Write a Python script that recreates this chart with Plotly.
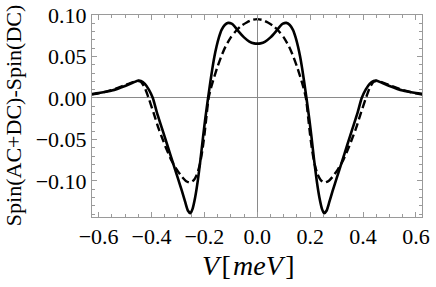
import plotly.graph_objects as go

# Solid curve (AC+DC) samples
x_solid = [-0.625, -0.60, -0.55, -0.50, -0.47, -0.45, -0.44, -0.425, -0.41, -0.395, -0.38, -0.36,
           -0.34, -0.32, -0.30, -0.285, -0.272, -0.262, -0.253, -0.245, -0.235, -0.225, -0.215,
           -0.205, -0.197, -0.186, -0.178, -0.17, -0.162, -0.154, -0.145, -0.135, -0.123, -0.11,
           -0.097, -0.085, -0.07, -0.05, -0.03, -0.012, 0.0,
           0.012, 0.03, 0.05, 0.07, 0.085, 0.097, 0.11, 0.123, 0.135, 0.145, 0.154, 0.162, 0.17,
           0.178, 0.186, 0.197, 0.205, 0.215, 0.225, 0.235, 0.245, 0.253, 0.262, 0.272, 0.285,
           0.30, 0.32, 0.34, 0.36, 0.38, 0.395, 0.41, 0.425, 0.44, 0.45, 0.47, 0.50, 0.55, 0.60, 0.625]
y_solid = [0.0048, 0.006, 0.009, 0.0145, 0.0185, 0.021, 0.0205, 0.017, 0.010, 0.0, -0.017, -0.037,
           -0.057, -0.077, -0.097, -0.112, -0.126, -0.136, -0.139, -0.134, -0.120, -0.100, -0.075,
           -0.047, -0.026, 0.0, 0.018, 0.035, 0.050, 0.062, 0.073, 0.082, 0.088, 0.0905,
           0.0895, 0.086, 0.080, 0.073, 0.068, 0.0658, 0.0655,
           0.0658, 0.068, 0.073, 0.080, 0.086, 0.0895, 0.0905, 0.088, 0.082, 0.073, 0.062, 0.050, 0.035,
           0.018, 0.0, -0.026, -0.047, -0.075, -0.100, -0.120, -0.134, -0.139, -0.136, -0.126, -0.112,
           -0.097, -0.077, -0.057, -0.037, -0.017, 0.0, 0.010, 0.017, 0.0205, 0.021, 0.0185, 0.0145, 0.009, 0.006, 0.0048]

# Dashed curve (DC reference) samples
x_dash = [-0.625, -0.60, -0.55, -0.50, -0.47, -0.45, -0.44, -0.425, -0.411, -0.39, -0.373, -0.36,
          -0.343, -0.325, -0.305, -0.285, -0.27, -0.255, -0.24, -0.228, -0.217, -0.208, -0.20,
          -0.193, -0.184, -0.175, -0.165, -0.15, -0.135, -0.12, -0.10, -0.08, -0.06, -0.04, -0.02, 0.0,
          0.02, 0.04, 0.06, 0.08, 0.10, 0.12, 0.135, 0.15, 0.165, 0.175, 0.184, 0.193, 0.20, 0.208,
          0.217, 0.228, 0.24, 0.255, 0.27, 0.285, 0.305, 0.325, 0.343, 0.36, 0.373, 0.39, 0.411,
          0.425, 0.44, 0.45, 0.47, 0.50, 0.55, 0.60, 0.625]
y_dash = [0.004, 0.0055, 0.0095, 0.0155, 0.019, 0.0205, 0.0195, 0.012, 0.0, -0.020, -0.037, -0.048,
          -0.062, -0.075, -0.086, -0.095, -0.100, -0.102, -0.099, -0.092, -0.080, -0.064, -0.045,
          -0.025, 0.0, 0.012, 0.023, 0.038, 0.051, 0.062, 0.073, 0.081, 0.087, 0.091, 0.094, 0.095,
          0.094, 0.091, 0.087, 0.081, 0.073, 0.062, 0.051, 0.038, 0.023, 0.012, 0.0, -0.025, -0.045, -0.064,
          -0.080, -0.092, -0.099, -0.102, -0.100, -0.095, -0.086, -0.075, -0.062, -0.048, -0.037, -0.020, 0.0,
          0.012, 0.0195, 0.0205, 0.019, 0.0155, 0.0095, 0.0055, 0.004]

x_ticks = [-0.6, -0.4, -0.2, 0.0, 0.2, 0.4, 0.6]
x_tick_labels = ["\u22120.6", "\u22120.4", "\u22120.2", "0.0", "0.2", "0.4", "0.6"]
y_ticks = [0.10, 0.05, 0.0, -0.05, -0.10]
y_tick_labels = ["0.10", "0.05", "0.00", "\u22120.05", "\u22120.10"]
x_title = "<i>V</i>\u200a[\u200a<i>meV</i>\u200a]"
y_title = "Spin(AC+DC)-Spin(DC)"

fig = go.Figure()
fig.add_trace(go.Scatter(x=x_dash, y=y_dash, mode="lines",
                         line=dict(color="black", width=2.4, dash="8px,4px", shape="spline", smoothing=0.6),
                         showlegend=False, hoverinfo="skip"))
fig.add_trace(go.Scatter(x=x_solid, y=y_solid, mode="lines",
                         line=dict(color="black", width=2.6, shape="spline", smoothing=0.6),
                         showlegend=False, hoverinfo="skip"))

font_family = "Liberation Serif"
axis_common = dict(
    showline=True, linecolor="#9a9a9a", linewidth=1, mirror="ticks",
    ticks="inside", tickcolor="#9a9a9a", ticklen=5, tickwidth=1,
    showgrid=False, zeroline=True, zerolinecolor="#8a8a8a", zerolinewidth=1,
    tickfont=dict(family=font_family, size=22, color="black"),
    automargin=False,
)

fig.update_xaxes(range=[-0.625, 0.623], tickvals=x_ticks, ticktext=x_tick_labels,
                 minor=dict(ticks="inside", dtick=0.05, tick0=0, ticklen=3, tickcolor="#9a9a9a"),
                 **axis_common)
fig.update_yaxes(range=[-0.1435, 0.1], tickvals=y_ticks, ticktext=y_tick_labels,
                 minor=dict(ticks="inside", dtick=0.01, tick0=0, ticklen=3, tickcolor="#9a9a9a"),
                 **axis_common)

fig.add_annotation(text=x_title, xref="paper", yref="paper", x=0.473, y=-0.242,
                   xanchor="center", yanchor="middle", showarrow=False,
                   font=dict(family=font_family, size=28, color="black"))
fig.add_annotation(text=y_title, xref="paper", yref="paper", x=-0.239, y=0.5,
                   xanchor="center", yanchor="middle", showarrow=False, textangle=-90,
                   font=dict(family=font_family, size=22, color="black"))

fig.update_layout(width=436, height=287, margin=dict(l=92, r=14, t=15, b=70),
                  plot_bgcolor="white", paper_bgcolor="white", hovermode=False)

fig.write_html("out.html", post_script="document.body.style.margin='0';",
               config={"displayModeBar": False, "staticPlot": True})
